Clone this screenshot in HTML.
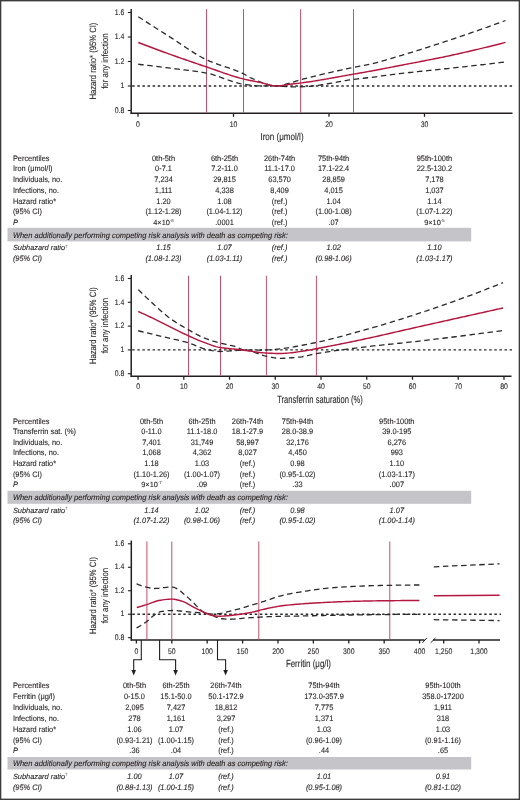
<!DOCTYPE html>
<html><head><meta charset="utf-8"><style>
html,body{margin:0;padding:0;background:#fff;}
#f{position:relative;width:520px;height:800px;overflow:hidden;background:#fff;box-sizing:border-box;border:1px solid #3c3c3c;box-shadow:inset 0 0 0 0.4px #666;}
svg{position:absolute;left:-1px;top:-1px;font-family:"Liberation Sans", sans-serif;will-change:transform;}
text{stroke:#231f20;stroke-width:0.1px;text-rendering:geometricPrecision;}
</style></head><body><div id="f">
<svg width="520" height="800" viewBox="0 0 520 800">
<line x1="131.2" y1="8.899999999999999" x2="131.2" y2="114.0" stroke="#231f20" stroke-width="1.5"/>
<line x1="127.79999999999998" y1="12.5" x2="131.2" y2="12.5" stroke="#231f20" stroke-width="1.1"/>
<text x="124.3" y="14.7" font-size="8.1" text-anchor="end" textLength="9.59" lengthAdjust="spacingAndGlyphs" fill="#231f20">1.6</text>
<line x1="127.79999999999998" y1="37.00000000000002" x2="131.2" y2="37.00000000000002" stroke="#231f20" stroke-width="1.1"/>
<text x="124.3" y="39.200000000000024" font-size="8.1" text-anchor="end" textLength="9.59" lengthAdjust="spacingAndGlyphs" fill="#231f20">1.4</text>
<line x1="127.79999999999998" y1="61.500000000000014" x2="131.2" y2="61.500000000000014" stroke="#231f20" stroke-width="1.1"/>
<text x="124.3" y="63.70000000000002" font-size="8.1" text-anchor="end" textLength="9.59" lengthAdjust="spacingAndGlyphs" fill="#231f20">1.2</text>
<line x1="127.79999999999998" y1="86.00000000000001" x2="131.2" y2="86.00000000000001" stroke="#231f20" stroke-width="1.1"/>
<text x="124.3" y="88.20000000000002" font-size="8.1" text-anchor="end" textLength="3.84" lengthAdjust="spacingAndGlyphs" fill="#231f20">1</text>
<line x1="127.79999999999998" y1="110.5" x2="131.2" y2="110.5" stroke="#231f20" stroke-width="1.1"/>
<text x="124.3" y="112.7" font-size="8.1" text-anchor="end" textLength="9.59" lengthAdjust="spacingAndGlyphs" fill="#231f20">0.8</text>
<text x="0" y="0" font-size="9.2" text-anchor="middle" fill="#231f20" textLength="77" lengthAdjust="spacingAndGlyphs" transform="translate(96,61.1) rotate(-90)">Hazard ratio* (95% CI)</text>
<text x="0" y="0" font-size="9.2" text-anchor="middle" fill="#231f20" textLength="55.5" lengthAdjust="spacingAndGlyphs" transform="translate(107.8,61.1) rotate(-90)">for any infection</text>
<line x1="130.7" y1="113.3" x2="512.5" y2="113.3" stroke="#231f20" stroke-width="1.5"/>
<line x1="138.0" y1="113.3" x2="138.0" y2="116.8" stroke="#231f20" stroke-width="1.3"/>
<text x="138.0" y="126.6" font-size="8.1" text-anchor="middle" textLength="3.84" lengthAdjust="spacingAndGlyphs" fill="#231f20">0</text>
<line x1="233.5" y1="113.3" x2="233.5" y2="116.8" stroke="#231f20" stroke-width="1.3"/>
<text x="233.5" y="126.6" font-size="8.1" text-anchor="middle" textLength="7.67" lengthAdjust="spacingAndGlyphs" fill="#231f20">10</text>
<line x1="329.0" y1="113.3" x2="329.0" y2="116.8" stroke="#231f20" stroke-width="1.3"/>
<text x="329.0" y="126.6" font-size="8.1" text-anchor="middle" textLength="7.67" lengthAdjust="spacingAndGlyphs" fill="#231f20">20</text>
<line x1="424.5" y1="113.3" x2="424.5" y2="116.8" stroke="#231f20" stroke-width="1.3"/>
<text x="424.5" y="126.6" font-size="8.1" text-anchor="middle" textLength="7.67" lengthAdjust="spacingAndGlyphs" fill="#231f20">30</text>
<text x="282" y="140.1" font-size="10" text-anchor="middle" textLength="43.2" lengthAdjust="spacingAndGlyphs" fill="#231f20">Iron (μmol/l)</text>
<line x1="206.5" y1="9.2" x2="206.5" y2="112.8" stroke="#c4506c" stroke-width="1"/>
<line x1="243.5" y1="9.2" x2="243.5" y2="112.8" stroke="#c4506c" stroke-width="1"/>
<line x1="300.6" y1="9.2" x2="300.6" y2="112.8" stroke="#c4506c" stroke-width="1"/>
<line x1="353.5" y1="9.2" x2="353.5" y2="112.8" stroke="#c4506c" stroke-width="1"/>
<line x1="132.2" y1="86.00000000000001" x2="513" y2="86.00000000000001" stroke="#2a2a2a" stroke-width="1.3" stroke-dasharray="2.5,2.6"/>
<path d="M138.25,16.75 L140.25,18.03 L142.24,19.32 L144.24,20.60 L146.23,21.88 L148.23,23.16 L150.23,24.43 L152.22,25.71 L154.22,26.98 L156.21,28.26 L158.21,29.53 L160.21,30.80 L162.20,32.06 L164.20,33.33 L166.19,34.59 L168.19,35.86 L170.18,37.12 L172.18,38.39 L174.18,39.70 L176.17,41.02 L178.17,42.35 L180.16,43.70 L182.16,45.05 L184.16,46.39 L186.15,47.73 L188.15,49.06 L190.14,50.37 L192.14,51.65 L194.14,52.91 L196.13,54.13 L198.13,55.32 L200.12,56.46 L202.12,57.55 L204.12,58.58 L206.11,59.55 L208.11,60.46 L210.10,61.32 L212.10,62.13 L214.10,62.90 L216.09,63.64 L218.09,64.34 L220.08,65.03 L222.08,65.70 L224.07,66.36 L226.07,67.03 L228.07,67.69 L230.06,68.37 L232.06,69.07 L234.05,69.79 L236.05,70.54 L238.05,71.34 L240.04,72.17 L242.04,73.06 L244.03,74.02 L246.03,75.21 L248.03,76.46 L250.02,77.51 L252.02,78.38 L254.01,79.27 L256.01,80.15 L258.01,81.02 L260.00,81.85 L262.00,82.65 L263.99,83.39 L265.99,84.06 L267.99,84.66 L269.98,85.16 L271.98,85.56 L273.97,85.83 L275.97,85.98 L277.96,85.97 L279.96,85.74 L281.96,85.33 L283.95,84.80 L285.95,84.20 L287.94,83.58 L289.94,83.02 L291.94,82.46 L293.93,81.85 L295.93,81.22 L297.92,80.60 L299.92,80.02 L301.92,79.48 L303.91,78.95 L305.91,78.42 L307.90,77.90 L309.90,77.39 L311.90,76.88 L313.89,76.38 L315.89,75.88 L317.88,75.39 L319.88,74.90 L321.88,74.42 L323.87,73.95 L325.87,73.47 L327.86,73.01 L329.86,72.55 L331.85,72.09 L333.85,71.64 L335.85,71.19 L337.84,70.75 L339.84,70.31 L341.83,69.87 L343.83,69.44 L345.83,69.01 L347.82,68.59 L349.82,68.16 L351.81,67.75 L353.81,67.33 L355.81,66.94 L357.80,66.57 L359.80,66.21 L361.79,65.86 L363.79,65.50 L365.79,65.12 L367.78,64.72 L369.78,64.30 L371.77,63.84 L373.77,63.36 L375.76,62.86 L377.76,62.33 L379.76,61.79 L381.75,61.23 L383.75,60.66 L385.74,60.08 L387.74,59.49 L389.74,58.89 L391.73,58.29 L393.73,57.68 L395.72,57.08 L397.72,56.48 L399.72,55.88 L401.71,55.29 L403.71,54.69 L405.70,54.09 L407.70,53.49 L409.70,52.88 L411.69,52.27 L413.69,51.66 L415.68,51.04 L417.68,50.42 L419.68,49.80 L421.67,49.18 L423.67,48.55 L425.66,47.91 L427.66,47.28 L429.65,46.64 L431.65,46.00 L433.65,45.36 L435.64,44.71 L437.64,44.07 L439.63,43.42 L441.63,42.76 L443.63,42.11 L445.62,41.45 L447.62,40.79 L449.61,40.13 L451.61,39.46 L453.61,38.80 L455.60,38.13 L457.60,37.45 L459.59,36.78 L461.59,36.10 L463.59,35.42 L465.58,34.74 L467.58,34.05 L469.57,33.36 L471.57,32.67 L473.57,31.97 L475.56,31.28 L477.56,30.58 L479.55,29.88 L481.55,29.17 L483.54,28.46 L485.54,27.75 L487.54,27.04 L489.53,26.32 L491.53,25.60 L493.52,24.88 L495.52,24.16 L497.52,23.43 L499.51,22.70 L501.51,21.97 L503.50,21.24 L505.50,20.50" fill="none" stroke="#2a2a2a" stroke-width="1.3" stroke-dasharray="5.5,3.6" stroke-linejoin="round"/>
<path d="M138.25,64.25 L140.25,64.49 L142.24,64.73 L144.24,64.97 L146.23,65.22 L148.23,65.46 L150.23,65.71 L152.22,65.96 L154.22,66.20 L156.21,66.45 L158.21,66.70 L160.21,66.95 L162.20,67.20 L164.20,67.46 L166.19,67.71 L168.19,67.97 L170.18,68.22 L172.18,68.48 L174.18,68.72 L176.17,68.96 L178.17,69.19 L180.16,69.43 L182.16,69.66 L184.16,69.89 L186.15,70.13 L188.15,70.37 L190.14,70.62 L192.14,70.87 L194.14,71.14 L196.13,71.41 L198.13,71.70 L200.12,72.00 L202.12,72.32 L204.12,72.66 L206.11,73.02 L208.11,73.43 L210.10,73.91 L212.10,74.46 L214.10,75.06 L216.09,75.70 L218.09,76.38 L220.08,77.09 L222.08,77.81 L224.07,78.54 L226.07,79.27 L228.07,79.99 L230.06,80.69 L232.06,81.36 L234.05,81.99 L236.05,82.58 L238.05,83.11 L240.04,83.57 L242.04,83.97 L244.03,84.28 L246.03,84.57 L248.03,84.85 L250.02,85.11 L252.02,85.35 L254.01,85.56 L256.01,85.73 L258.01,85.84 L260.00,85.90 L262.00,85.92 L263.99,85.93 L265.99,85.94 L267.99,85.95 L269.98,85.95 L271.98,85.96 L273.97,85.97 L275.97,85.99 L277.96,86.02 L279.96,86.13 L281.96,86.28 L283.95,86.46 L285.95,86.63 L287.94,86.75 L289.94,86.80 L291.94,86.80 L293.93,86.80 L295.93,86.80 L297.92,86.80 L299.92,86.80 L301.92,86.78 L303.91,86.72 L305.91,86.62 L307.90,86.49 L309.90,86.32 L311.90,86.12 L313.89,85.89 L315.89,85.64 L317.88,85.37 L319.88,85.07 L321.88,84.76 L323.87,84.43 L325.87,84.09 L327.86,83.74 L329.86,83.38 L331.85,83.02 L333.85,82.65 L335.85,82.28 L337.84,81.92 L339.84,81.56 L341.83,81.21 L343.83,80.87 L345.83,80.54 L347.82,80.22 L349.82,79.93 L351.81,79.65 L353.81,79.40 L355.81,79.16 L357.80,78.92 L359.80,78.69 L361.79,78.46 L363.79,78.23 L365.79,78.00 L367.78,77.77 L369.78,77.53 L371.77,77.28 L373.77,77.03 L375.76,76.77 L377.76,76.50 L379.76,76.24 L381.75,75.97 L383.75,75.70 L385.74,75.43 L387.74,75.16 L389.74,74.90 L391.73,74.63 L393.73,74.37 L395.72,74.12 L397.72,73.87 L399.72,73.63 L401.71,73.40 L403.71,73.17 L405.70,72.94 L407.70,72.72 L409.70,72.50 L411.69,72.29 L413.69,72.07 L415.68,71.86 L417.68,71.65 L419.68,71.45 L421.67,71.24 L423.67,71.03 L425.66,70.83 L427.66,70.63 L429.65,70.42 L431.65,70.22 L433.65,70.02 L435.64,69.81 L437.64,69.61 L439.63,69.40 L441.63,69.19 L443.63,68.98 L445.62,68.77 L447.62,68.56 L449.61,68.34 L451.61,68.12 L453.61,67.90 L455.60,67.68 L457.60,67.46 L459.59,67.24 L461.59,67.02 L463.59,66.80 L465.58,66.58 L467.58,66.35 L469.57,66.13 L471.57,65.90 L473.57,65.68 L475.56,65.45 L477.56,65.23 L479.55,65.00 L481.55,64.77 L483.54,64.54 L485.54,64.32 L487.54,64.09 L489.53,63.86 L491.53,63.63 L493.52,63.40 L495.52,63.17 L497.52,62.93 L499.51,62.70 L501.51,62.47 L503.50,62.23 L505.50,62.00" fill="none" stroke="#2a2a2a" stroke-width="1.3" stroke-dasharray="5.5,3.6" stroke-linejoin="round"/>
<path d="M138.25,42.50 L140.25,43.26 L142.24,44.03 L144.24,44.79 L146.23,45.54 L148.23,46.29 L150.23,47.04 L152.22,47.79 L154.22,48.53 L156.21,49.27 L158.21,50.01 L160.21,50.75 L162.20,51.48 L164.20,52.20 L166.19,52.93 L168.19,53.65 L170.18,54.37 L172.18,55.08 L174.18,55.79 L176.17,56.50 L178.17,57.20 L180.16,57.90 L182.16,58.60 L184.16,59.30 L186.15,59.99 L188.15,60.68 L190.14,61.36 L192.14,62.05 L194.14,62.73 L196.13,63.41 L198.13,64.09 L200.12,64.77 L202.12,65.44 L204.12,66.12 L206.11,66.79 L208.11,67.47 L210.10,68.15 L212.10,68.85 L214.10,69.55 L216.09,70.26 L218.09,70.96 L220.08,71.67 L222.08,72.37 L224.07,73.07 L226.07,73.75 L228.07,74.43 L230.06,75.09 L232.06,75.73 L234.05,76.36 L236.05,76.97 L238.05,77.55 L240.04,78.10 L242.04,78.63 L244.03,79.13 L246.03,79.59 L248.03,80.02 L250.02,80.43 L252.02,80.83 L254.01,81.21 L256.01,81.60 L258.01,81.99 L260.00,82.40 L262.00,82.86 L263.99,83.39 L265.99,83.95 L267.99,84.51 L269.98,85.02 L271.98,85.46 L273.97,85.79 L275.97,85.97 L277.96,85.98 L279.96,85.83 L281.96,85.56 L283.95,85.22 L285.95,84.85 L287.94,84.50 L289.94,84.21 L291.94,83.98 L293.93,83.77 L295.93,83.56 L297.92,83.35 L299.92,83.11 L301.92,82.85 L303.91,82.58 L305.91,82.30 L307.90,82.02 L309.90,81.72 L311.90,81.41 L313.89,81.10 L315.89,80.78 L317.88,80.45 L319.88,80.12 L321.88,79.78 L323.87,79.44 L325.87,79.09 L327.86,78.74 L329.86,78.38 L331.85,78.03 L333.85,77.67 L335.85,77.31 L337.84,76.95 L339.84,76.59 L341.83,76.23 L343.83,75.87 L345.83,75.51 L347.82,75.16 L349.82,74.80 L351.81,74.46 L353.81,74.11 L355.81,73.77 L357.80,73.42 L359.80,73.07 L361.79,72.72 L363.79,72.37 L365.79,72.01 L367.78,71.65 L369.78,71.29 L371.77,70.92 L373.77,70.55 L375.76,70.18 L377.76,69.80 L379.76,69.42 L381.75,69.04 L383.75,68.66 L385.74,68.27 L387.74,67.89 L389.74,67.50 L391.73,67.11 L393.73,66.72 L395.72,66.33 L397.72,65.94 L399.72,65.56 L401.71,65.17 L403.71,64.78 L405.70,64.40 L407.70,64.01 L409.70,63.63 L411.69,63.25 L413.69,62.86 L415.68,62.48 L417.68,62.10 L419.68,61.71 L421.67,61.33 L423.67,60.94 L425.66,60.55 L427.66,60.16 L429.65,59.77 L431.65,59.38 L433.65,58.98 L435.64,58.58 L437.64,58.18 L439.63,57.77 L441.63,57.36 L443.63,56.95 L445.62,56.53 L447.62,56.11 L449.61,55.68 L451.61,55.25 L453.61,54.82 L455.60,54.38 L457.60,53.94 L459.59,53.49 L461.59,53.04 L463.59,52.59 L465.58,52.14 L467.58,51.68 L469.57,51.22 L471.57,50.76 L473.57,50.29 L475.56,49.82 L477.56,49.34 L479.55,48.87 L481.55,48.39 L483.54,47.91 L485.54,47.42 L487.54,46.93 L489.53,46.44 L491.53,45.94 L493.52,45.45 L495.52,44.95 L497.52,44.44 L499.51,43.94 L501.51,43.43 L503.50,42.92 L505.50,42.40" fill="none" stroke="#b3173f" stroke-width="1.45" stroke-linejoin="round"/>
<line x1="131.2" y1="275.0" x2="131.2" y2="376.95" stroke="#231f20" stroke-width="1.5"/>
<line x1="127.79999999999998" y1="278.5" x2="131.2" y2="278.5" stroke="#231f20" stroke-width="1.1"/>
<text x="124.3" y="280.7" font-size="8.1" text-anchor="end" textLength="9.59" lengthAdjust="spacingAndGlyphs" fill="#231f20">1.6</text>
<line x1="127.79999999999998" y1="302.3" x2="131.2" y2="302.3" stroke="#231f20" stroke-width="1.1"/>
<text x="124.3" y="304.5" font-size="8.1" text-anchor="end" textLength="9.59" lengthAdjust="spacingAndGlyphs" fill="#231f20">1.4</text>
<line x1="127.79999999999998" y1="326.1" x2="131.2" y2="326.1" stroke="#231f20" stroke-width="1.1"/>
<text x="124.3" y="328.3" font-size="8.1" text-anchor="end" textLength="9.59" lengthAdjust="spacingAndGlyphs" fill="#231f20">1.2</text>
<line x1="127.79999999999998" y1="349.9" x2="131.2" y2="349.9" stroke="#231f20" stroke-width="1.1"/>
<text x="124.3" y="352.09999999999997" font-size="8.1" text-anchor="end" textLength="3.84" lengthAdjust="spacingAndGlyphs" fill="#231f20">1</text>
<line x1="127.79999999999998" y1="373.7" x2="131.2" y2="373.7" stroke="#231f20" stroke-width="1.1"/>
<text x="124.3" y="375.9" font-size="8.1" text-anchor="end" textLength="9.59" lengthAdjust="spacingAndGlyphs" fill="#231f20">0.8</text>
<text x="0" y="0" font-size="9.2" text-anchor="middle" fill="#231f20" textLength="77" lengthAdjust="spacingAndGlyphs" transform="translate(96,325.6) rotate(-90)">Hazard ratio* (95% CI)</text>
<text x="0" y="0" font-size="9.2" text-anchor="middle" fill="#231f20" textLength="55.5" lengthAdjust="spacingAndGlyphs" transform="translate(107.8,325.6) rotate(-90)">for any infection</text>
<line x1="130.7" y1="376.25" x2="511.5" y2="376.25" stroke="#231f20" stroke-width="1.5"/>
<line x1="138.05" y1="376.25" x2="138.05" y2="379.75" stroke="#231f20" stroke-width="1.3"/>
<text x="138.05" y="389.3" font-size="8.1" text-anchor="middle" textLength="3.84" lengthAdjust="spacingAndGlyphs" fill="#231f20">0</text>
<line x1="183.79000000000002" y1="376.25" x2="183.79000000000002" y2="379.75" stroke="#231f20" stroke-width="1.3"/>
<text x="183.79000000000002" y="389.3" font-size="8.1" text-anchor="middle" textLength="7.67" lengthAdjust="spacingAndGlyphs" fill="#231f20">10</text>
<line x1="229.53" y1="376.25" x2="229.53" y2="379.75" stroke="#231f20" stroke-width="1.3"/>
<text x="229.53" y="389.3" font-size="8.1" text-anchor="middle" textLength="7.67" lengthAdjust="spacingAndGlyphs" fill="#231f20">20</text>
<line x1="275.27" y1="376.25" x2="275.27" y2="379.75" stroke="#231f20" stroke-width="1.3"/>
<text x="275.27" y="389.3" font-size="8.1" text-anchor="middle" textLength="7.67" lengthAdjust="spacingAndGlyphs" fill="#231f20">30</text>
<line x1="321.01" y1="376.25" x2="321.01" y2="379.75" stroke="#231f20" stroke-width="1.3"/>
<text x="321.01" y="389.3" font-size="8.1" text-anchor="middle" textLength="7.67" lengthAdjust="spacingAndGlyphs" fill="#231f20">40</text>
<line x1="366.75" y1="376.25" x2="366.75" y2="379.75" stroke="#231f20" stroke-width="1.3"/>
<text x="366.75" y="389.3" font-size="8.1" text-anchor="middle" textLength="7.67" lengthAdjust="spacingAndGlyphs" fill="#231f20">50</text>
<line x1="412.49" y1="376.25" x2="412.49" y2="379.75" stroke="#231f20" stroke-width="1.3"/>
<text x="412.49" y="389.3" font-size="8.1" text-anchor="middle" textLength="7.67" lengthAdjust="spacingAndGlyphs" fill="#231f20">60</text>
<line x1="458.23" y1="376.25" x2="458.23" y2="379.75" stroke="#231f20" stroke-width="1.3"/>
<text x="458.23" y="389.3" font-size="8.1" text-anchor="middle" textLength="7.67" lengthAdjust="spacingAndGlyphs" fill="#231f20">70</text>
<line x1="503.96999999999997" y1="376.25" x2="503.96999999999997" y2="379.75" stroke="#231f20" stroke-width="1.3"/>
<text x="503.96999999999997" y="389.3" font-size="8.1" text-anchor="middle" textLength="7.67" lengthAdjust="spacingAndGlyphs" fill="#231f20">80</text>
<text x="320" y="403.1" font-size="10.5" text-anchor="middle" textLength="85.5" lengthAdjust="spacingAndGlyphs" fill="#231f20">Transferrin saturation (%)</text>
<line x1="188.5" y1="275.7" x2="188.5" y2="375.75" stroke="#c4506c" stroke-width="1"/>
<line x1="220.5" y1="275.7" x2="220.5" y2="375.75" stroke="#c4506c" stroke-width="1"/>
<line x1="266.4" y1="275.7" x2="266.4" y2="375.75" stroke="#c4506c" stroke-width="1"/>
<line x1="316.4" y1="275.7" x2="316.4" y2="375.75" stroke="#c4506c" stroke-width="1"/>
<line x1="132.2" y1="349.9" x2="512" y2="349.9" stroke="#2a2a2a" stroke-width="1.3" stroke-dasharray="2.5,2.6"/>
<path d="M138.25,289.60 L140.24,291.57 L142.24,293.52 L144.23,295.44 L146.22,297.35 L148.22,299.23 L150.21,301.08 L152.20,302.91 L154.20,304.73 L156.19,306.57 L158.18,308.39 L160.17,310.20 L162.17,311.97 L164.16,313.69 L166.15,315.34 L168.15,316.92 L170.14,318.39 L172.13,319.80 L174.13,321.15 L176.12,322.45 L178.11,323.71 L180.11,324.93 L182.10,326.12 L184.09,327.29 L186.09,328.43 L188.08,329.56 L190.07,330.69 L192.07,331.82 L194.06,332.94 L196.05,334.04 L198.05,335.09 L200.04,336.10 L202.03,337.05 L204.02,337.91 L206.02,338.69 L208.01,339.41 L210.00,340.09 L212.00,340.72 L213.99,341.32 L215.98,341.90 L217.98,342.45 L219.97,342.99 L221.96,343.50 L223.96,343.95 L225.95,344.39 L227.94,344.81 L229.94,345.24 L231.93,345.70 L233.92,346.20 L235.92,346.80 L237.91,347.66 L239.90,348.61 L241.89,349.47 L243.89,350.01 L245.88,350.10 L247.87,350.10 L249.87,350.09 L251.86,350.09 L253.85,350.08 L255.85,350.07 L257.84,350.06 L259.83,350.05 L261.83,350.04 L263.82,350.02 L265.81,350.00 L267.81,349.95 L269.80,349.85 L271.79,349.69 L273.79,349.50 L275.78,349.28 L277.77,349.05 L279.77,348.83 L281.76,348.60 L283.75,348.35 L285.74,348.08 L287.74,347.80 L289.73,347.50 L291.72,347.18 L293.72,346.85 L295.71,346.50 L297.70,346.14 L299.70,345.77 L301.69,345.39 L303.68,345.00 L305.68,344.61 L307.67,344.21 L309.66,343.80 L311.66,343.40 L313.65,342.99 L315.64,342.57 L317.64,342.16 L319.63,341.73 L321.62,341.29 L323.61,340.83 L325.61,340.37 L327.60,339.89 L329.59,339.40 L331.59,338.91 L333.58,338.40 L335.57,337.89 L337.57,337.37 L339.56,336.85 L341.55,336.32 L343.55,335.78 L345.54,335.24 L347.53,334.70 L349.53,334.15 L351.52,333.60 L353.51,333.05 L355.51,332.50 L357.50,331.94 L359.49,331.39 L361.48,330.84 L363.48,330.28 L365.47,329.72 L367.46,329.16 L369.46,328.59 L371.45,328.02 L373.44,327.44 L375.44,326.87 L377.43,326.28 L379.42,325.70 L381.42,325.11 L383.41,324.51 L385.40,323.92 L387.40,323.32 L389.39,322.71 L391.38,322.11 L393.38,321.49 L395.37,320.88 L397.36,320.26 L399.36,319.64 L401.35,319.01 L403.34,318.39 L405.33,317.75 L407.33,317.12 L409.32,316.48 L411.31,315.84 L413.31,315.19 L415.30,314.54 L417.29,313.89 L419.29,313.24 L421.28,312.58 L423.27,311.91 L425.27,311.25 L427.26,310.58 L429.25,309.91 L431.25,309.23 L433.24,308.56 L435.23,307.87 L437.23,307.19 L439.22,306.50 L441.21,305.81 L443.20,305.11 L445.20,304.42 L447.19,303.71 L449.18,303.01 L451.18,302.30 L453.17,301.59 L455.16,300.87 L457.16,300.15 L459.15,299.43 L461.14,298.71 L463.14,297.98 L465.13,297.25 L467.12,296.51 L469.12,295.77 L471.11,295.03 L473.10,294.29 L475.10,293.54 L477.09,292.79 L479.08,292.03 L481.08,291.27 L483.07,290.51 L485.06,289.74 L487.05,288.98 L489.05,288.20 L491.04,287.43 L493.03,286.65 L495.03,285.86 L497.02,285.08 L499.01,284.29 L501.01,283.50 L503.00,282.70" fill="none" stroke="#2a2a2a" stroke-width="1.3" stroke-dasharray="5.5,3.6" stroke-linejoin="round"/>
<path d="M138.25,330.75 L140.24,331.25 L142.24,331.75 L144.23,332.24 L146.22,332.73 L148.22,333.22 L150.21,333.70 L152.20,334.18 L154.20,334.65 L156.19,335.11 L158.18,335.57 L160.17,336.02 L162.17,336.47 L164.16,336.93 L166.15,337.39 L168.15,337.85 L170.14,338.33 L172.13,338.80 L174.13,339.26 L176.12,339.72 L178.11,340.19 L180.11,340.66 L182.10,341.16 L184.09,341.67 L186.09,342.21 L188.08,342.78 L190.07,343.41 L192.07,344.15 L194.06,344.96 L196.05,345.80 L198.05,346.64 L200.04,347.43 L202.03,348.15 L204.02,348.76 L206.02,349.23 L208.01,349.70 L210.00,350.16 L212.00,350.58 L213.99,350.95 L215.98,351.24 L217.98,351.43 L219.97,351.50 L221.96,351.47 L223.96,351.38 L225.95,351.26 L227.94,351.10 L229.94,350.94 L231.93,350.79 L233.92,350.66 L235.92,350.55 L237.91,350.45 L239.90,350.35 L241.89,350.26 L243.89,350.21 L245.88,350.22 L247.87,350.44 L249.87,350.85 L251.86,351.41 L253.85,352.08 L255.85,352.83 L257.84,353.60 L259.83,354.36 L261.83,355.07 L263.82,355.68 L265.81,356.16 L267.81,356.56 L269.80,356.97 L271.79,357.36 L273.79,357.72 L275.78,358.01 L277.77,358.21 L279.77,358.30 L281.76,358.29 L283.75,358.24 L285.74,358.16 L287.74,358.05 L289.73,357.92 L291.72,357.77 L293.72,357.60 L295.71,357.42 L297.70,357.23 L299.70,357.03 L301.69,356.79 L303.68,356.46 L305.68,356.05 L307.67,355.60 L309.66,355.12 L311.66,354.65 L313.65,354.20 L315.64,353.81 L317.64,353.47 L319.63,353.14 L321.62,352.81 L323.61,352.49 L325.61,352.18 L327.60,351.87 L329.59,351.57 L331.59,351.28 L333.58,350.99 L335.57,350.70 L337.57,350.42 L339.56,350.14 L341.55,349.87 L343.55,349.60 L345.54,349.34 L347.53,349.08 L349.53,348.82 L351.52,348.56 L353.51,348.31 L355.51,348.06 L357.50,347.81 L359.49,347.56 L361.48,347.32 L363.48,347.08 L365.47,346.84 L367.46,346.61 L369.46,346.38 L371.45,346.16 L373.44,345.94 L375.44,345.72 L377.43,345.50 L379.42,345.29 L381.42,345.08 L383.41,344.87 L385.40,344.67 L387.40,344.46 L389.39,344.26 L391.38,344.05 L393.38,343.85 L395.37,343.64 L397.36,343.44 L399.36,343.23 L401.35,343.03 L403.34,342.82 L405.33,342.61 L407.33,342.40 L409.32,342.19 L411.31,341.97 L413.31,341.76 L415.30,341.54 L417.29,341.31 L419.29,341.08 L421.28,340.85 L423.27,340.62 L425.27,340.38 L427.26,340.15 L429.25,339.91 L431.25,339.68 L433.24,339.44 L435.23,339.20 L437.23,338.96 L439.22,338.72 L441.21,338.48 L443.20,338.24 L445.20,337.99 L447.19,337.75 L449.18,337.50 L451.18,337.26 L453.17,337.01 L455.16,336.76 L457.16,336.51 L459.15,336.26 L461.14,336.01 L463.14,335.76 L465.13,335.51 L467.12,335.25 L469.12,335.00 L471.11,334.74 L473.10,334.48 L475.10,334.22 L477.09,333.96 L479.08,333.70 L481.08,333.44 L483.07,333.18 L485.06,332.92 L487.05,332.65 L489.05,332.39 L491.04,332.12 L493.03,331.85 L495.03,331.58 L497.02,331.31 L499.01,331.04 L501.01,330.77 L503.00,330.50" fill="none" stroke="#2a2a2a" stroke-width="1.3" stroke-dasharray="5.5,3.6" stroke-linejoin="round"/>
<path d="M138.25,311.50 L140.24,312.40 L142.24,313.30 L144.23,314.21 L146.22,315.13 L148.22,316.06 L150.21,317.00 L152.20,317.95 L154.20,318.92 L156.19,319.89 L158.18,320.88 L160.17,321.88 L162.17,322.88 L164.16,323.89 L166.15,324.89 L168.15,325.88 L170.14,326.87 L172.13,327.85 L174.13,328.85 L176.12,329.84 L178.11,330.83 L180.11,331.81 L182.10,332.79 L184.09,333.75 L186.09,334.69 L188.08,335.61 L190.07,336.51 L192.07,337.41 L194.06,338.31 L196.05,339.19 L198.05,340.05 L200.04,340.88 L202.03,341.68 L204.02,342.44 L206.02,343.17 L208.01,343.90 L210.00,344.63 L212.00,345.34 L213.99,346.00 L215.98,346.59 L217.98,347.10 L219.97,347.49 L221.96,347.80 L223.96,348.06 L225.95,348.28 L227.94,348.49 L229.94,348.68 L231.93,348.87 L233.92,349.08 L235.92,349.31 L237.91,349.54 L239.90,349.78 L241.89,350.02 L243.89,350.26 L245.88,350.51 L247.87,350.78 L249.87,351.06 L251.86,351.35 L253.85,351.64 L255.85,351.93 L257.84,352.20 L259.83,352.45 L261.83,352.67 L263.82,352.85 L265.81,352.99 L267.81,353.10 L269.80,353.20 L271.79,353.29 L273.79,353.37 L275.78,353.44 L277.77,353.48 L279.77,353.50 L281.76,353.48 L283.75,353.40 L285.74,353.27 L287.74,353.10 L289.73,352.89 L291.72,352.66 L293.72,352.42 L295.71,352.16 L297.70,351.89 L299.70,351.64 L301.69,351.37 L303.68,351.06 L305.68,350.72 L307.67,350.36 L309.66,349.98 L311.66,349.59 L313.65,349.20 L315.64,348.82 L317.64,348.44 L319.63,348.07 L321.62,347.69 L323.61,347.31 L325.61,346.93 L327.60,346.55 L329.59,346.16 L331.59,345.77 L333.58,345.38 L335.57,344.99 L337.57,344.59 L339.56,344.20 L341.55,343.80 L343.55,343.40 L345.54,342.99 L347.53,342.59 L349.53,342.18 L351.52,341.77 L353.51,341.36 L355.51,340.94 L357.50,340.52 L359.49,340.11 L361.48,339.69 L363.48,339.26 L365.47,338.83 L367.46,338.40 L369.46,337.97 L371.45,337.53 L373.44,337.09 L375.44,336.65 L377.43,336.20 L379.42,335.75 L381.42,335.31 L383.41,334.85 L385.40,334.40 L387.40,333.95 L389.39,333.49 L391.38,333.03 L393.38,332.58 L395.37,332.12 L397.36,331.66 L399.36,331.20 L401.35,330.75 L403.34,330.29 L405.33,329.83 L407.33,329.37 L409.32,328.92 L411.31,328.46 L413.31,328.01 L415.30,327.56 L417.29,327.11 L419.29,326.66 L421.28,326.21 L423.27,325.77 L425.27,325.32 L427.26,324.87 L429.25,324.43 L431.25,323.98 L433.24,323.54 L435.23,323.09 L437.23,322.65 L439.22,322.20 L441.21,321.75 L443.20,321.31 L445.20,320.86 L447.19,320.42 L449.18,319.97 L451.18,319.53 L453.17,319.08 L455.16,318.64 L457.16,318.19 L459.15,317.75 L461.14,317.31 L463.14,316.86 L465.13,316.42 L467.12,315.97 L469.12,315.53 L471.11,315.09 L473.10,314.64 L475.10,314.20 L477.09,313.75 L479.08,313.31 L481.08,312.87 L483.07,312.42 L485.06,311.98 L487.05,311.54 L489.05,311.10 L491.04,310.65 L493.03,310.21 L495.03,309.77 L497.02,309.33 L499.01,308.88 L501.01,308.44 L503.00,308.00" fill="none" stroke="#b3173f" stroke-width="1.45" stroke-linejoin="round"/>
<line x1="131.3" y1="540.5" x2="131.3" y2="640.7" stroke="#231f20" stroke-width="1.5"/>
<line x1="127.9" y1="543.8" x2="131.3" y2="543.8" stroke="#231f20" stroke-width="1.1"/>
<text x="124.3" y="546.0" font-size="8.1" text-anchor="end" textLength="9.59" lengthAdjust="spacingAndGlyphs" fill="#231f20">1.6</text>
<line x1="127.9" y1="567.275" x2="131.3" y2="567.275" stroke="#231f20" stroke-width="1.1"/>
<text x="124.3" y="569.475" font-size="8.1" text-anchor="end" textLength="9.59" lengthAdjust="spacingAndGlyphs" fill="#231f20">1.4</text>
<line x1="127.9" y1="590.75" x2="131.3" y2="590.75" stroke="#231f20" stroke-width="1.1"/>
<text x="124.3" y="592.95" font-size="8.1" text-anchor="end" textLength="9.59" lengthAdjust="spacingAndGlyphs" fill="#231f20">1.2</text>
<line x1="127.9" y1="614.225" x2="131.3" y2="614.225" stroke="#231f20" stroke-width="1.1"/>
<text x="124.3" y="616.4250000000001" font-size="8.1" text-anchor="end" textLength="3.84" lengthAdjust="spacingAndGlyphs" fill="#231f20">1</text>
<line x1="127.9" y1="637.7" x2="131.3" y2="637.7" stroke="#231f20" stroke-width="1.1"/>
<text x="124.3" y="639.9000000000001" font-size="8.1" text-anchor="end" textLength="9.59" lengthAdjust="spacingAndGlyphs" fill="#231f20">0.8</text>
<text x="0" y="0" font-size="9.2" text-anchor="middle" fill="#231f20" textLength="77" lengthAdjust="spacingAndGlyphs" transform="translate(96,595.5) rotate(-90)">Hazard ratio* (95% CI)</text>
<text x="0" y="0" font-size="9.2" text-anchor="middle" fill="#231f20" textLength="55.5" lengthAdjust="spacingAndGlyphs" transform="translate(107.8,595.5) rotate(-90)">for any infection</text>
<line x1="130.8" y1="640.0" x2="424.5" y2="640.0" stroke="#231f20" stroke-width="1.5"/>
<line x1="433" y1="640.0" x2="500" y2="640.0" stroke="#231f20" stroke-width="1.5"/>
<line x1="422.5" y1="642.8" x2="426.8" y2="638" stroke="#231f20" stroke-width="1"/>
<line x1="430.7" y1="642.8" x2="435.5" y2="638" stroke="#231f20" stroke-width="1"/>
<line x1="136.4" y1="640.0" x2="136.4" y2="643.5" stroke="#231f20" stroke-width="1.3"/>
<text x="136.4" y="653.6" font-size="8.1" text-anchor="middle" textLength="3.84" lengthAdjust="spacingAndGlyphs" fill="#231f20">0</text>
<line x1="171.79500000000002" y1="640.0" x2="171.79500000000002" y2="643.5" stroke="#231f20" stroke-width="1.3"/>
<text x="171.79500000000002" y="653.6" font-size="8.1" text-anchor="middle" textLength="7.67" lengthAdjust="spacingAndGlyphs" fill="#231f20">50</text>
<line x1="207.19" y1="640.0" x2="207.19" y2="643.5" stroke="#231f20" stroke-width="1.3"/>
<text x="207.19" y="653.6" font-size="8.1" text-anchor="middle" textLength="11.51" lengthAdjust="spacingAndGlyphs" fill="#231f20">100</text>
<line x1="242.585" y1="640.0" x2="242.585" y2="643.5" stroke="#231f20" stroke-width="1.3"/>
<text x="242.585" y="653.6" font-size="8.1" text-anchor="middle" textLength="11.51" lengthAdjust="spacingAndGlyphs" fill="#231f20">150</text>
<line x1="277.98" y1="640.0" x2="277.98" y2="643.5" stroke="#231f20" stroke-width="1.3"/>
<text x="277.98" y="653.6" font-size="8.1" text-anchor="middle" textLength="11.51" lengthAdjust="spacingAndGlyphs" fill="#231f20">200</text>
<line x1="313.375" y1="640.0" x2="313.375" y2="643.5" stroke="#231f20" stroke-width="1.3"/>
<text x="313.375" y="653.6" font-size="8.1" text-anchor="middle" textLength="11.51" lengthAdjust="spacingAndGlyphs" fill="#231f20">250</text>
<line x1="348.77" y1="640.0" x2="348.77" y2="643.5" stroke="#231f20" stroke-width="1.3"/>
<text x="348.77" y="653.6" font-size="8.1" text-anchor="middle" textLength="11.51" lengthAdjust="spacingAndGlyphs" fill="#231f20">300</text>
<line x1="384.16499999999996" y1="640.0" x2="384.16499999999996" y2="643.5" stroke="#231f20" stroke-width="1.3"/>
<text x="384.16499999999996" y="653.6" font-size="8.1" text-anchor="middle" textLength="11.51" lengthAdjust="spacingAndGlyphs" fill="#231f20">350</text>
<line x1="419.55999999999995" y1="640.0" x2="419.55999999999995" y2="643.5" stroke="#231f20" stroke-width="1.3"/>
<text x="419.55999999999995" y="653.6" font-size="8.1" text-anchor="middle" textLength="11.51" lengthAdjust="spacingAndGlyphs" fill="#231f20">400</text>
<line x1="443.7" y1="640.0" x2="443.7" y2="643.5" stroke="#231f20" stroke-width="1.3"/>
<text x="443.7" y="653.6" font-size="8.1" text-anchor="middle" textLength="17.27" lengthAdjust="spacingAndGlyphs" fill="#231f20">1,250</text>
<line x1="479" y1="640.0" x2="479" y2="643.5" stroke="#231f20" stroke-width="1.3"/>
<text x="479" y="653.6" font-size="8.1" text-anchor="middle" textLength="17.27" lengthAdjust="spacingAndGlyphs" fill="#231f20">1,300</text>
<text x="308.4" y="667.2" font-size="10.3" text-anchor="middle" textLength="45" lengthAdjust="spacingAndGlyphs" fill="#231f20">Ferritin (μg/l)</text>
<line x1="146.9" y1="541.5" x2="146.9" y2="639.5" stroke="#c4506c" stroke-width="1"/>
<line x1="171.8" y1="541.5" x2="171.8" y2="639.5" stroke="#c4506c" stroke-width="1"/>
<line x1="258.8" y1="541.5" x2="258.8" y2="639.5" stroke="#c4506c" stroke-width="1"/>
<line x1="389.8" y1="541.5" x2="389.8" y2="639.5" stroke="#c4506c" stroke-width="1"/>
<line x1="132.3" y1="614.225" x2="501" y2="614.225" stroke="#2a2a2a" stroke-width="1.3" stroke-dasharray="2.5,2.6"/>
<path d="M136.50,583.75 L138.49,584.60 L140.48,585.39 L142.48,586.09 L144.47,586.69 L146.46,587.19 L148.45,587.60 L150.45,588.00 L152.44,588.32 L154.43,588.49 L156.42,588.46 L158.41,588.29 L160.41,588.05 L162.40,587.79 L164.39,587.55 L166.38,587.38 L168.38,587.19 L170.37,587.04 L172.36,587.01 L174.35,587.49 L176.35,588.41 L178.34,589.49 L180.33,590.99 L182.32,592.72 L184.31,594.39 L186.31,596.11 L188.30,597.87 L190.29,599.68 L192.28,601.55 L194.28,603.56 L196.27,605.62 L198.26,607.59 L200.25,609.38 L202.24,611.21 L204.24,612.71 L206.23,613.41 L208.22,613.83 L210.21,614.11 L212.21,614.20 L214.20,614.12 L216.19,613.95 L218.18,613.73 L220.17,613.48 L222.17,613.15 L224.16,612.73 L226.15,612.24 L228.14,611.72 L230.14,611.22 L232.13,610.71 L234.12,610.19 L236.11,609.64 L238.10,609.08 L240.10,608.52 L242.09,607.94 L244.08,607.35 L246.07,606.76 L248.07,606.17 L250.06,605.58 L252.05,604.99 L254.04,604.40 L256.04,603.79 L258.03,603.18 L260.02,602.57 L262.01,601.95 L264.00,601.32 L266.00,600.67 L267.99,599.99 L269.98,599.28 L271.97,598.56 L273.97,597.86 L275.96,597.19 L277.95,596.56 L279.94,596.01 L281.93,595.52 L283.93,595.06 L285.92,594.61 L287.91,594.19 L289.90,593.79 L291.90,593.41 L293.89,593.04 L295.88,592.69 L297.87,592.35 L299.86,592.02 L301.86,591.70 L303.85,591.38 L305.84,591.07 L307.83,590.77 L309.83,590.47 L311.82,590.18 L313.81,589.89 L315.80,589.62 L317.80,589.36 L319.79,589.10 L321.78,588.86 L323.77,588.63 L325.76,588.41 L327.76,588.21 L329.75,588.02 L331.74,587.85 L333.73,587.68 L335.73,587.52 L337.72,587.36 L339.71,587.22 L341.70,587.08 L343.69,586.95 L345.69,586.83 L347.68,586.72 L349.67,586.62 L351.66,586.52 L353.66,586.42 L355.65,586.33 L357.64,586.24 L359.63,586.15 L361.62,586.07 L363.62,585.99 L365.61,585.92 L367.60,585.84 L369.59,585.77 L371.59,585.71 L373.58,585.65 L375.57,585.60 L377.56,585.55 L379.55,585.51 L381.55,585.47 L383.54,585.43 L385.53,585.39 L387.52,585.36 L389.52,585.32 L391.51,585.29 L393.50,585.25 L395.49,585.22 L397.49,585.19 L399.48,585.16 L401.47,585.13 L403.46,585.11 L405.45,585.08 L407.45,585.06 L409.44,585.04 L411.43,585.03 L413.42,585.02 L415.42,585.01 L417.41,585.00 L419.40,585.00" fill="none" stroke="#2a2a2a" stroke-width="1.3" stroke-dasharray="5.5,3.6" stroke-linejoin="round"/>
<path d="M136.50,628.00 L138.49,626.92 L140.48,625.73 L142.48,624.46 L144.47,623.11 L146.46,621.69 L148.45,620.13 L150.45,618.33 L152.44,616.50 L154.43,614.89 L156.42,613.55 L158.41,612.37 L160.41,611.72 L162.40,611.36 L164.39,611.05 L166.38,610.81 L168.38,610.63 L170.37,610.53 L172.36,610.50 L174.35,610.55 L176.35,610.65 L178.34,610.80 L180.33,610.98 L182.32,611.19 L184.31,611.41 L186.31,611.63 L188.30,611.84 L190.29,612.03 L192.28,612.19 L194.28,612.33 L196.27,612.48 L198.26,612.62 L200.25,612.77 L202.24,612.95 L204.24,613.15 L206.23,613.38 L208.22,613.67 L210.21,614.13 L212.21,614.99 L214.20,616.08 L216.19,617.16 L218.18,618.05 L220.17,618.52 L222.17,618.76 L224.16,618.96 L226.15,619.12 L228.14,619.22 L230.14,619.25 L232.13,619.21 L234.12,619.12 L236.11,618.98 L238.10,618.81 L240.10,618.61 L242.09,618.41 L244.08,618.20 L246.07,618.01 L248.07,617.83 L250.06,617.70 L252.05,617.58 L254.04,617.46 L256.04,617.35 L258.03,617.23 L260.02,617.12 L262.01,617.01 L264.00,616.91 L266.00,616.81 L267.99,616.72 L269.98,616.63 L271.97,616.55 L273.97,616.47 L275.96,616.41 L277.95,616.35 L279.94,616.30 L281.93,616.26 L283.93,616.22 L285.92,616.19 L287.91,616.16 L289.90,616.14 L291.90,616.11 L293.89,616.09 L295.88,616.06 L297.87,616.03 L299.86,616.00 L301.86,615.97 L303.85,615.93 L305.84,615.89 L307.83,615.85 L309.83,615.81 L311.82,615.77 L313.81,615.73 L315.80,615.69 L317.80,615.64 L319.79,615.60 L321.78,615.55 L323.77,615.51 L325.76,615.46 L327.76,615.42 L329.75,615.38 L331.74,615.33 L333.73,615.29 L335.73,615.25 L337.72,615.21 L339.71,615.17 L341.70,615.13 L343.69,615.10 L345.69,615.06 L347.68,615.03 L349.67,615.00 L351.66,614.98 L353.66,614.95 L355.65,614.92 L357.64,614.90 L359.63,614.87 L361.62,614.84 L363.62,614.82 L365.61,614.79 L367.60,614.77 L369.59,614.74 L371.59,614.72 L373.58,614.70 L375.57,614.67 L377.56,614.65 L379.55,614.63 L381.55,614.60 L383.54,614.58 L385.53,614.56 L387.52,614.54 L389.52,614.52 L391.51,614.50 L393.50,614.48 L395.49,614.46 L397.49,614.45 L399.48,614.43 L401.47,614.41 L403.46,614.40 L405.45,614.38 L407.45,614.37 L409.44,614.35 L411.43,614.34 L413.42,614.33 L415.42,614.32 L417.41,614.31 L419.40,614.30" fill="none" stroke="#2a2a2a" stroke-width="1.3" stroke-dasharray="5.5,3.6" stroke-linejoin="round"/>
<path d="M136.80,607.50 L138.79,606.94 L140.78,606.36 L142.77,605.78 L144.76,605.18 L146.75,604.58 L148.74,603.92 L150.73,603.19 L152.72,602.44 L154.71,601.71 L156.70,601.06 L158.69,600.54 L160.68,600.20 L162.67,599.90 L164.66,599.63 L166.65,599.40 L168.64,599.23 L170.63,599.12 L172.62,599.11 L174.61,599.30 L176.60,599.68 L178.59,600.19 L180.58,600.78 L182.57,601.39 L184.56,602.19 L186.55,603.21 L188.54,604.35 L190.53,605.48 L192.52,606.53 L194.51,607.58 L196.50,608.63 L198.49,609.65 L200.48,610.63 L202.47,611.59 L204.46,612.50 L206.45,613.36 L208.45,614.25 L210.44,615.02 L212.43,615.47 L214.42,615.76 L216.41,616.00 L218.40,616.16 L220.39,616.20 L222.38,616.14 L224.37,616.01 L226.36,615.84 L228.35,615.66 L230.34,615.47 L232.33,615.27 L234.32,615.05 L236.31,614.80 L238.30,614.53 L240.29,614.24 L242.28,613.93 L244.27,613.61 L246.26,613.27 L248.25,612.92 L250.24,612.56 L252.23,612.15 L254.22,611.69 L256.21,611.19 L258.20,610.68 L260.19,610.16 L262.18,609.65 L264.17,609.18 L266.16,608.75 L268.15,608.32 L270.14,607.90 L272.13,607.48 L274.12,607.09 L276.11,606.72 L278.10,606.38 L280.09,606.09 L282.08,605.82 L284.07,605.57 L286.06,605.33 L288.05,605.11 L290.04,604.90 L292.03,604.70 L294.02,604.51 L296.01,604.33 L298.00,604.16 L299.99,604.00 L301.98,603.85 L303.97,603.70 L305.96,603.56 L307.95,603.43 L309.94,603.30 L311.93,603.17 L313.92,603.05 L315.91,602.93 L317.90,602.82 L319.89,602.71 L321.88,602.60 L323.87,602.50 L325.86,602.40 L327.85,602.30 L329.84,602.21 L331.83,602.11 L333.82,602.02 L335.81,601.93 L337.80,601.84 L339.79,601.76 L341.78,601.68 L343.77,601.60 L345.76,601.53 L347.75,601.47 L349.75,601.41 L351.74,601.35 L353.73,601.30 L355.72,601.25 L357.71,601.20 L359.70,601.16 L361.69,601.11 L363.68,601.07 L365.67,601.03 L367.66,600.99 L369.65,600.95 L371.64,600.92 L373.63,600.89 L375.62,600.86 L377.61,600.83 L379.60,600.80 L381.59,600.78 L383.58,600.76 L385.57,600.74 L387.56,600.72 L389.55,600.70 L391.54,600.67 L393.53,600.65 L395.52,600.64 L397.51,600.62 L399.50,600.60 L401.49,600.58 L403.48,600.57 L405.47,600.55 L407.46,600.54 L409.45,600.53 L411.44,600.52 L413.43,600.51 L415.42,600.51 L417.41,600.50 L419.40,600.50" fill="none" stroke="#b3173f" stroke-width="1.45" stroke-linejoin="round"/>
<path d="M433.8,566.8 L499.6,563.8" fill="none" stroke="#2a2a2a" stroke-width="1.3" stroke-dasharray="5.5,3.6" stroke-linejoin="round"/>
<path d="M433.8,619.7 L499.6,620.6" fill="none" stroke="#2a2a2a" stroke-width="1.3" stroke-dasharray="5.5,3.6" stroke-linejoin="round"/>
<path d="M433.8,595.8 L499.6,595.3" fill="none" stroke="#b3173f" stroke-width="1.45" stroke-linejoin="round"/>
<path d="M141.3,640.0 L141.3,659.8 L133.7,659.8 L133.7,671" fill="none" stroke="#231f20" stroke-width="1.1"/>
<path d="M131.39999999999998,670 L136.0,670 L133.7,675.5 Z" fill="#231f20"/>
<path d="M159.6,640.0 L159.6,659.8 L175.6,659.8 L175.6,671" fill="none" stroke="#231f20" stroke-width="1.1"/>
<path d="M173.29999999999998,670 L177.9,670 L175.6,675.5 Z" fill="#231f20"/>
<path d="M217.5,640.0 L217.5,659.8 L225.6,659.8 L225.6,671" fill="none" stroke="#231f20" stroke-width="1.1"/>
<path d="M223.29999999999998,670 L227.9,670 L225.6,675.5 Z" fill="#231f20"/>
<text x="12.9" y="160.7" font-size="7.9" text-anchor="start" textLength="36.6" lengthAdjust="spacingAndGlyphs" fill="#231f20">Percentiles</text>
<text x="163.5" y="160.7" font-size="7.9" text-anchor="middle" textLength="23.04" lengthAdjust="spacingAndGlyphs" fill="#231f20">0th-5th</text>
<text x="224.5" y="160.7" font-size="7.9" text-anchor="middle" textLength="27.15" lengthAdjust="spacingAndGlyphs" fill="#231f20">6th-25th</text>
<text x="279.6" y="160.7" font-size="7.9" text-anchor="middle" textLength="31.27" lengthAdjust="spacingAndGlyphs" fill="#231f20">26th-74th</text>
<text x="333.6" y="160.7" font-size="7.9" text-anchor="middle" textLength="31.27" lengthAdjust="spacingAndGlyphs" fill="#231f20">75th-94th</text>
<text x="434.4" y="160.7" font-size="7.9" text-anchor="middle" textLength="35.38" lengthAdjust="spacingAndGlyphs" fill="#231f20">95th-100th</text>
<text x="12.9" y="171.2" font-size="7.9" text-anchor="start" textLength="39.62" lengthAdjust="spacingAndGlyphs" fill="#231f20">Iron (μmol/l)</text>
<text x="163.5" y="171.2" font-size="7.9" text-anchor="middle" textLength="16.87" lengthAdjust="spacingAndGlyphs" fill="#231f20">0-7.1</text>
<text x="224.5" y="171.2" font-size="7.9" text-anchor="middle" textLength="26.6" lengthAdjust="spacingAndGlyphs" fill="#231f20">7.2-11.0</text>
<text x="279.6" y="171.2" font-size="7.9" text-anchor="middle" textLength="30.72" lengthAdjust="spacingAndGlyphs" fill="#231f20">11.1-17.0</text>
<text x="333.6" y="171.2" font-size="7.9" text-anchor="middle" textLength="31.27" lengthAdjust="spacingAndGlyphs" fill="#231f20">17.1-22.4</text>
<text x="434.4" y="171.2" font-size="7.9" text-anchor="middle" textLength="35.38" lengthAdjust="spacingAndGlyphs" fill="#231f20">22.5-130.2</text>
<text x="12.9" y="182.3" font-size="7.9" text-anchor="start" textLength="49.36" lengthAdjust="spacingAndGlyphs" fill="#231f20">Individuals, no.</text>
<text x="163.5" y="182.3" font-size="7.9" text-anchor="middle" textLength="18.52" lengthAdjust="spacingAndGlyphs" fill="#231f20">7,234</text>
<text x="224.5" y="182.3" font-size="7.9" text-anchor="middle" textLength="22.63" lengthAdjust="spacingAndGlyphs" fill="#231f20">29,815</text>
<text x="279.6" y="182.3" font-size="7.9" text-anchor="middle" textLength="22.63" lengthAdjust="spacingAndGlyphs" fill="#231f20">63,570</text>
<text x="333.6" y="182.3" font-size="7.9" text-anchor="middle" textLength="22.63" lengthAdjust="spacingAndGlyphs" fill="#231f20">28,859</text>
<text x="434.4" y="182.3" font-size="7.9" text-anchor="middle" textLength="18.52" lengthAdjust="spacingAndGlyphs" fill="#231f20">7,178</text>
<text x="12.9" y="192.8" font-size="7.9" text-anchor="start" textLength="46.07" lengthAdjust="spacingAndGlyphs" fill="#231f20">Infections, no.</text>
<text x="163.5" y="192.8" font-size="7.9" text-anchor="middle" textLength="17.42" lengthAdjust="spacingAndGlyphs" fill="#231f20">1,111</text>
<text x="224.5" y="192.8" font-size="7.9" text-anchor="middle" textLength="18.52" lengthAdjust="spacingAndGlyphs" fill="#231f20">4,338</text>
<text x="279.6" y="192.8" font-size="7.9" text-anchor="middle" textLength="18.52" lengthAdjust="spacingAndGlyphs" fill="#231f20">8,409</text>
<text x="333.6" y="192.8" font-size="7.9" text-anchor="middle" textLength="18.52" lengthAdjust="spacingAndGlyphs" fill="#231f20">4,015</text>
<text x="434.4" y="192.8" font-size="7.9" text-anchor="middle" textLength="18.52" lengthAdjust="spacingAndGlyphs" fill="#231f20">1,037</text>
<text x="12.9" y="203.6" font-size="7.9" text-anchor="start" textLength="43.18" lengthAdjust="spacingAndGlyphs" fill="#231f20">Hazard ratio*</text>
<text x="163.5" y="203.6" font-size="7.9" text-anchor="middle" textLength="14.4" lengthAdjust="spacingAndGlyphs" fill="#231f20">1.20</text>
<text x="224.5" y="203.6" font-size="7.9" text-anchor="middle" textLength="14.4" lengthAdjust="spacingAndGlyphs" fill="#231f20">1.08</text>
<text x="279.6" y="203.6" font-size="7.9" text-anchor="middle" textLength="15.62" lengthAdjust="spacingAndGlyphs" fill="#231f20">(ref.)</text>
<text x="333.6" y="203.6" font-size="7.9" text-anchor="middle" textLength="14.4" lengthAdjust="spacingAndGlyphs" fill="#231f20">1.04</text>
<text x="434.4" y="203.6" font-size="7.9" text-anchor="middle" textLength="14.4" lengthAdjust="spacingAndGlyphs" fill="#231f20">1.14</text>
<text x="12.9" y="214.3" font-size="7.9" text-anchor="start" textLength="29.19" lengthAdjust="spacingAndGlyphs" fill="#231f20">(95% CI)</text>
<text x="163.5" y="214.3" font-size="7.9" text-anchor="middle" textLength="36.19" lengthAdjust="spacingAndGlyphs" fill="#231f20">(1.12-1.28)</text>
<text x="224.5" y="214.3" font-size="7.9" text-anchor="middle" textLength="36.19" lengthAdjust="spacingAndGlyphs" fill="#231f20">(1.04-1.12)</text>
<text x="279.6" y="214.3" font-size="7.9" text-anchor="middle" textLength="15.62" lengthAdjust="spacingAndGlyphs" fill="#231f20">(ref.)</text>
<text x="333.6" y="214.3" font-size="7.9" text-anchor="middle" textLength="36.19" lengthAdjust="spacingAndGlyphs" fill="#231f20">(1.00-1.08)</text>
<text x="434.4" y="214.3" font-size="7.9" text-anchor="middle" textLength="36.19" lengthAdjust="spacingAndGlyphs" fill="#231f20">(1.07-1.22)</text>
<text x="12.9" y="224.5" font-size="7.9" text-anchor="start" font-style="italic" textLength="4.94" lengthAdjust="spacingAndGlyphs" fill="#231f20">P</text>
<text x="163.5" y="224.5" font-size="7.4" text-anchor="middle" fill="#231f20">4×10<tspan dy="-2.8" font-size="4.3" style="stroke-width:0">-8</tspan></text>
<text x="224.5" y="224.5" font-size="7.9" text-anchor="middle" textLength="18.52" lengthAdjust="spacingAndGlyphs" fill="#231f20">.0001</text>
<text x="279.6" y="224.5" font-size="7.9" text-anchor="middle" textLength="15.62" lengthAdjust="spacingAndGlyphs" fill="#231f20">(ref.)</text>
<text x="333.6" y="224.5" font-size="7.9" text-anchor="middle" textLength="10.29" lengthAdjust="spacingAndGlyphs" fill="#231f20">.07</text>
<text x="434.4" y="224.5" font-size="7.4" text-anchor="middle" fill="#231f20">9×10<tspan dy="-2.8" font-size="4.3" style="stroke-width:0">-5</tspan></text>
<rect x="7.5" y="227.8" width="463.7" height="13.599999999999994" fill="#c5c4c9"/>
<text x="12.9" y="237.5" font-size="7.9" text-anchor="start" font-style="italic" textLength="275" lengthAdjust="spacingAndGlyphs" fill="#231f20">When additionally performing competing risk analysis with death as competing risk:</text>
<text x="12.9" y="250.4" font-size="7.4" text-anchor="start" font-style="italic" fill="#231f20">Subhazard ratio<tspan dy="-2.6" font-size="4.4" style="stroke-width:0">†</tspan></text>
<text x="163.5" y="250.4" font-size="7.9" text-anchor="middle" font-style="italic" textLength="14.4" lengthAdjust="spacingAndGlyphs" fill="#231f20">1.15</text>
<text x="224.5" y="250.4" font-size="7.9" text-anchor="middle" font-style="italic" textLength="14.4" lengthAdjust="spacingAndGlyphs" fill="#231f20">1.07</text>
<text x="279.6" y="250.4" font-size="7.9" text-anchor="middle" font-style="italic" textLength="15.62" lengthAdjust="spacingAndGlyphs" fill="#231f20">(ref.)</text>
<text x="333.6" y="250.4" font-size="7.9" text-anchor="middle" font-style="italic" textLength="14.4" lengthAdjust="spacingAndGlyphs" fill="#231f20">1.02</text>
<text x="434.4" y="250.4" font-size="7.9" text-anchor="middle" font-style="italic" textLength="14.4" lengthAdjust="spacingAndGlyphs" fill="#231f20">1.10</text>
<text x="12.9" y="260.9" font-size="7.9" text-anchor="start" font-style="italic" textLength="29.19" lengthAdjust="spacingAndGlyphs" fill="#231f20">(95% CI)</text>
<text x="163.5" y="260.9" font-size="7.9" text-anchor="middle" font-style="italic" textLength="36.19" lengthAdjust="spacingAndGlyphs" fill="#231f20">(1.08-1.23)</text>
<text x="224.5" y="260.9" font-size="7.9" text-anchor="middle" font-style="italic" textLength="35.64" lengthAdjust="spacingAndGlyphs" fill="#231f20">(1.03-1.11)</text>
<text x="279.6" y="260.9" font-size="7.9" text-anchor="middle" font-style="italic" textLength="15.62" lengthAdjust="spacingAndGlyphs" fill="#231f20">(ref.)</text>
<text x="333.6" y="260.9" font-size="7.9" text-anchor="middle" font-style="italic" textLength="36.19" lengthAdjust="spacingAndGlyphs" fill="#231f20">(0.98-1.06)</text>
<text x="434.4" y="260.9" font-size="7.9" text-anchor="middle" font-style="italic" textLength="36.19" lengthAdjust="spacingAndGlyphs" fill="#231f20">(1.03-1.17)</text>
<text x="12.9" y="423.5" font-size="7.9" text-anchor="start" textLength="36.6" lengthAdjust="spacingAndGlyphs" fill="#231f20">Percentiles</text>
<text x="151.5" y="423.5" font-size="7.9" text-anchor="middle" textLength="23.04" lengthAdjust="spacingAndGlyphs" fill="#231f20">0th-5th</text>
<text x="202.0" y="423.5" font-size="7.9" text-anchor="middle" textLength="27.15" lengthAdjust="spacingAndGlyphs" fill="#231f20">6th-25th</text>
<text x="247.5" y="423.5" font-size="7.9" text-anchor="middle" textLength="31.27" lengthAdjust="spacingAndGlyphs" fill="#231f20">26th-74th</text>
<text x="297.5" y="423.5" font-size="7.9" text-anchor="middle" textLength="31.27" lengthAdjust="spacingAndGlyphs" fill="#231f20">75th-94th</text>
<text x="396.8" y="423.5" font-size="7.9" text-anchor="middle" textLength="35.38" lengthAdjust="spacingAndGlyphs" fill="#231f20">95th-100th</text>
<text x="12.9" y="434.2" font-size="7.9" text-anchor="start" textLength="63.04" lengthAdjust="spacingAndGlyphs" fill="#231f20">Transferrin sat. (%)</text>
<text x="151.5" y="434.2" font-size="7.9" text-anchor="middle" textLength="20.43" lengthAdjust="spacingAndGlyphs" fill="#231f20">0-11.0</text>
<text x="202.0" y="434.2" font-size="7.9" text-anchor="middle" textLength="30.72" lengthAdjust="spacingAndGlyphs" fill="#231f20">11.1-18.0</text>
<text x="247.5" y="434.2" font-size="7.9" text-anchor="middle" textLength="31.27" lengthAdjust="spacingAndGlyphs" fill="#231f20">18.1-27.9</text>
<text x="297.5" y="434.2" font-size="7.9" text-anchor="middle" textLength="31.27" lengthAdjust="spacingAndGlyphs" fill="#231f20">28.0-38.9</text>
<text x="396.8" y="434.2" font-size="7.9" text-anchor="middle" textLength="29.21" lengthAdjust="spacingAndGlyphs" fill="#231f20">39.0-195</text>
<text x="12.9" y="444.8" font-size="7.9" text-anchor="start" textLength="49.36" lengthAdjust="spacingAndGlyphs" fill="#231f20">Individuals, no.</text>
<text x="151.5" y="444.8" font-size="7.9" text-anchor="middle" textLength="18.52" lengthAdjust="spacingAndGlyphs" fill="#231f20">7,401</text>
<text x="202.0" y="444.8" font-size="7.9" text-anchor="middle" textLength="22.63" lengthAdjust="spacingAndGlyphs" fill="#231f20">31,749</text>
<text x="247.5" y="444.8" font-size="7.9" text-anchor="middle" textLength="22.63" lengthAdjust="spacingAndGlyphs" fill="#231f20">58,997</text>
<text x="297.5" y="444.8" font-size="7.9" text-anchor="middle" textLength="22.63" lengthAdjust="spacingAndGlyphs" fill="#231f20">32,176</text>
<text x="396.8" y="444.8" font-size="7.9" text-anchor="middle" textLength="18.52" lengthAdjust="spacingAndGlyphs" fill="#231f20">6,276</text>
<text x="12.9" y="455.4" font-size="7.9" text-anchor="start" textLength="46.07" lengthAdjust="spacingAndGlyphs" fill="#231f20">Infections, no.</text>
<text x="151.5" y="455.4" font-size="7.9" text-anchor="middle" textLength="18.52" lengthAdjust="spacingAndGlyphs" fill="#231f20">1,068</text>
<text x="202.0" y="455.4" font-size="7.9" text-anchor="middle" textLength="18.52" lengthAdjust="spacingAndGlyphs" fill="#231f20">4,362</text>
<text x="247.5" y="455.4" font-size="7.9" text-anchor="middle" textLength="18.52" lengthAdjust="spacingAndGlyphs" fill="#231f20">8,027</text>
<text x="297.5" y="455.4" font-size="7.9" text-anchor="middle" textLength="18.52" lengthAdjust="spacingAndGlyphs" fill="#231f20">4,450</text>
<text x="396.8" y="455.4" font-size="7.9" text-anchor="middle" textLength="12.35" lengthAdjust="spacingAndGlyphs" fill="#231f20">993</text>
<text x="12.9" y="466.0" font-size="7.9" text-anchor="start" textLength="43.18" lengthAdjust="spacingAndGlyphs" fill="#231f20">Hazard ratio*</text>
<text x="151.5" y="466.0" font-size="7.9" text-anchor="middle" textLength="14.4" lengthAdjust="spacingAndGlyphs" fill="#231f20">1.18</text>
<text x="202.0" y="466.0" font-size="7.9" text-anchor="middle" textLength="14.4" lengthAdjust="spacingAndGlyphs" fill="#231f20">1.03</text>
<text x="247.5" y="466.0" font-size="7.9" text-anchor="middle" textLength="15.62" lengthAdjust="spacingAndGlyphs" fill="#231f20">(ref.)</text>
<text x="297.5" y="466.0" font-size="7.9" text-anchor="middle" textLength="14.4" lengthAdjust="spacingAndGlyphs" fill="#231f20">0.98</text>
<text x="396.8" y="466.0" font-size="7.9" text-anchor="middle" textLength="14.4" lengthAdjust="spacingAndGlyphs" fill="#231f20">1.10</text>
<text x="12.9" y="476.8" font-size="7.9" text-anchor="start" textLength="29.19" lengthAdjust="spacingAndGlyphs" fill="#231f20">(95% CI)</text>
<text x="151.5" y="476.8" font-size="7.9" text-anchor="middle" textLength="36.19" lengthAdjust="spacingAndGlyphs" fill="#231f20">(1.10-1.26)</text>
<text x="202.0" y="476.8" font-size="7.9" text-anchor="middle" textLength="36.19" lengthAdjust="spacingAndGlyphs" fill="#231f20">(1.00-1.07)</text>
<text x="247.5" y="476.8" font-size="7.9" text-anchor="middle" textLength="15.62" lengthAdjust="spacingAndGlyphs" fill="#231f20">(ref.)</text>
<text x="297.5" y="476.8" font-size="7.9" text-anchor="middle" textLength="36.19" lengthAdjust="spacingAndGlyphs" fill="#231f20">(0.95-1.02)</text>
<text x="396.8" y="476.8" font-size="7.9" text-anchor="middle" textLength="36.19" lengthAdjust="spacingAndGlyphs" fill="#231f20">(1.03-1.17)</text>
<text x="12.9" y="487.1" font-size="7.9" text-anchor="start" font-style="italic" textLength="4.94" lengthAdjust="spacingAndGlyphs" fill="#231f20">P</text>
<text x="151.5" y="487.1" font-size="7.4" text-anchor="middle" fill="#231f20">9×10<tspan dy="-2.8" font-size="4.3" style="stroke-width:0">-7</tspan></text>
<text x="202.0" y="487.1" font-size="7.9" text-anchor="middle" textLength="10.29" lengthAdjust="spacingAndGlyphs" fill="#231f20">.09</text>
<text x="247.5" y="487.1" font-size="7.9" text-anchor="middle" textLength="15.62" lengthAdjust="spacingAndGlyphs" fill="#231f20">(ref.)</text>
<text x="297.5" y="487.1" font-size="7.9" text-anchor="middle" textLength="10.29" lengthAdjust="spacingAndGlyphs" fill="#231f20">.33</text>
<text x="396.8" y="487.1" font-size="7.9" text-anchor="middle" textLength="14.4" lengthAdjust="spacingAndGlyphs" fill="#231f20">.007</text>
<rect x="7.5" y="490.8" width="463.7" height="13.0" fill="#c5c4c9"/>
<text x="12.9" y="500.0" font-size="7.9" text-anchor="start" font-style="italic" textLength="275" lengthAdjust="spacingAndGlyphs" fill="#231f20">When additionally performing competing risk analysis with death as competing risk:</text>
<text x="12.9" y="513.0" font-size="7.4" text-anchor="start" font-style="italic" fill="#231f20">Subhazard ratio<tspan dy="-2.6" font-size="4.4" style="stroke-width:0">†</tspan></text>
<text x="151.5" y="513.0" font-size="7.9" text-anchor="middle" font-style="italic" textLength="14.4" lengthAdjust="spacingAndGlyphs" fill="#231f20">1.14</text>
<text x="202.0" y="513.0" font-size="7.9" text-anchor="middle" font-style="italic" textLength="14.4" lengthAdjust="spacingAndGlyphs" fill="#231f20">1.02</text>
<text x="247.5" y="513.0" font-size="7.9" text-anchor="middle" font-style="italic" textLength="15.62" lengthAdjust="spacingAndGlyphs" fill="#231f20">(ref.)</text>
<text x="297.5" y="513.0" font-size="7.9" text-anchor="middle" font-style="italic" textLength="14.4" lengthAdjust="spacingAndGlyphs" fill="#231f20">0.98</text>
<text x="396.8" y="513.0" font-size="7.9" text-anchor="middle" font-style="italic" textLength="14.4" lengthAdjust="spacingAndGlyphs" fill="#231f20">1.07</text>
<text x="12.9" y="523.0" font-size="7.9" text-anchor="start" font-style="italic" textLength="29.19" lengthAdjust="spacingAndGlyphs" fill="#231f20">(95% CI)</text>
<text x="151.5" y="523.0" font-size="7.9" text-anchor="middle" font-style="italic" textLength="36.19" lengthAdjust="spacingAndGlyphs" fill="#231f20">(1.07-1.22)</text>
<text x="202.0" y="523.0" font-size="7.9" text-anchor="middle" font-style="italic" textLength="36.19" lengthAdjust="spacingAndGlyphs" fill="#231f20">(0.98-1.06)</text>
<text x="247.5" y="523.0" font-size="7.9" text-anchor="middle" font-style="italic" textLength="15.62" lengthAdjust="spacingAndGlyphs" fill="#231f20">(ref.)</text>
<text x="297.5" y="523.0" font-size="7.9" text-anchor="middle" font-style="italic" textLength="36.19" lengthAdjust="spacingAndGlyphs" fill="#231f20">(0.95-1.02)</text>
<text x="396.8" y="523.0" font-size="7.9" text-anchor="middle" font-style="italic" textLength="36.19" lengthAdjust="spacingAndGlyphs" fill="#231f20">(1.00-1.14)</text>
<text x="12.9" y="687.6" font-size="7.9" text-anchor="start" textLength="36.6" lengthAdjust="spacingAndGlyphs" fill="#231f20">Percentiles</text>
<text x="134.5" y="687.6" font-size="7.9" text-anchor="middle" textLength="23.04" lengthAdjust="spacingAndGlyphs" fill="#231f20">0th-5th</text>
<text x="176.0" y="687.6" font-size="7.9" text-anchor="middle" textLength="27.15" lengthAdjust="spacingAndGlyphs" fill="#231f20">6th-25th</text>
<text x="226.0" y="687.6" font-size="7.9" text-anchor="middle" textLength="31.27" lengthAdjust="spacingAndGlyphs" fill="#231f20">26th-74th</text>
<text x="324.0" y="687.6" font-size="7.9" text-anchor="middle" textLength="31.27" lengthAdjust="spacingAndGlyphs" fill="#231f20">75th-94th</text>
<text x="443.0" y="687.6" font-size="7.9" text-anchor="middle" textLength="35.38" lengthAdjust="spacingAndGlyphs" fill="#231f20">95th-100th</text>
<text x="12.9" y="698.7" font-size="7.9" text-anchor="start" textLength="42.09" lengthAdjust="spacingAndGlyphs" fill="#231f20">Ferritin (μg/l)</text>
<text x="134.5" y="698.7" font-size="7.9" text-anchor="middle" textLength="20.98" lengthAdjust="spacingAndGlyphs" fill="#231f20">0-15.0</text>
<text x="176.0" y="698.7" font-size="7.9" text-anchor="middle" textLength="31.27" lengthAdjust="spacingAndGlyphs" fill="#231f20">15.1-50.0</text>
<text x="226.0" y="698.7" font-size="7.9" text-anchor="middle" textLength="35.38" lengthAdjust="spacingAndGlyphs" fill="#231f20">50.1-172.9</text>
<text x="324.0" y="698.7" font-size="7.9" text-anchor="middle" textLength="39.5" lengthAdjust="spacingAndGlyphs" fill="#231f20">173.0-357.9</text>
<text x="443.0" y="698.7" font-size="7.9" text-anchor="middle" textLength="41.56" lengthAdjust="spacingAndGlyphs" fill="#231f20">358.0-17200</text>
<text x="12.9" y="709.5" font-size="7.9" text-anchor="start" textLength="49.36" lengthAdjust="spacingAndGlyphs" fill="#231f20">Individuals, no.</text>
<text x="134.5" y="709.5" font-size="7.9" text-anchor="middle" textLength="18.52" lengthAdjust="spacingAndGlyphs" fill="#231f20">2,095</text>
<text x="176.0" y="709.5" font-size="7.9" text-anchor="middle" textLength="18.52" lengthAdjust="spacingAndGlyphs" fill="#231f20">7,427</text>
<text x="226.0" y="709.5" font-size="7.9" text-anchor="middle" textLength="22.63" lengthAdjust="spacingAndGlyphs" fill="#231f20">18,812</text>
<text x="324.0" y="709.5" font-size="7.9" text-anchor="middle" textLength="18.52" lengthAdjust="spacingAndGlyphs" fill="#231f20">7,775</text>
<text x="443.0" y="709.5" font-size="7.9" text-anchor="middle" textLength="17.97" lengthAdjust="spacingAndGlyphs" fill="#231f20">1,911</text>
<text x="12.9" y="720.7" font-size="7.9" text-anchor="start" textLength="46.07" lengthAdjust="spacingAndGlyphs" fill="#231f20">Infections, no.</text>
<text x="134.5" y="720.7" font-size="7.9" text-anchor="middle" textLength="12.35" lengthAdjust="spacingAndGlyphs" fill="#231f20">278</text>
<text x="176.0" y="720.7" font-size="7.9" text-anchor="middle" textLength="18.52" lengthAdjust="spacingAndGlyphs" fill="#231f20">1,161</text>
<text x="226.0" y="720.7" font-size="7.9" text-anchor="middle" textLength="18.52" lengthAdjust="spacingAndGlyphs" fill="#231f20">3,297</text>
<text x="324.0" y="720.7" font-size="7.9" text-anchor="middle" textLength="18.52" lengthAdjust="spacingAndGlyphs" fill="#231f20">1,371</text>
<text x="443.0" y="720.7" font-size="7.9" text-anchor="middle" textLength="12.35" lengthAdjust="spacingAndGlyphs" fill="#231f20">318</text>
<text x="12.9" y="731.7" font-size="7.9" text-anchor="start" textLength="43.18" lengthAdjust="spacingAndGlyphs" fill="#231f20">Hazard ratio*</text>
<text x="134.5" y="731.7" font-size="7.9" text-anchor="middle" textLength="14.4" lengthAdjust="spacingAndGlyphs" fill="#231f20">1.06</text>
<text x="176.0" y="731.7" font-size="7.9" text-anchor="middle" textLength="14.4" lengthAdjust="spacingAndGlyphs" fill="#231f20">1.07</text>
<text x="226.0" y="731.7" font-size="7.9" text-anchor="middle" textLength="15.62" lengthAdjust="spacingAndGlyphs" fill="#231f20">(ref.)</text>
<text x="324.0" y="731.7" font-size="7.9" text-anchor="middle" textLength="14.4" lengthAdjust="spacingAndGlyphs" fill="#231f20">1.03</text>
<text x="443.0" y="731.7" font-size="7.9" text-anchor="middle" textLength="14.4" lengthAdjust="spacingAndGlyphs" fill="#231f20">1.03</text>
<text x="12.9" y="742.5" font-size="7.9" text-anchor="start" textLength="29.19" lengthAdjust="spacingAndGlyphs" fill="#231f20">(95% CI)</text>
<text x="134.5" y="742.5" font-size="7.9" text-anchor="middle" textLength="36.19" lengthAdjust="spacingAndGlyphs" fill="#231f20">(0.93-1.21)</text>
<text x="176.0" y="742.5" font-size="7.9" text-anchor="middle" textLength="36.19" lengthAdjust="spacingAndGlyphs" fill="#231f20">(1.00-1.15)</text>
<text x="226.0" y="742.5" font-size="7.9" text-anchor="middle" textLength="15.62" lengthAdjust="spacingAndGlyphs" fill="#231f20">(ref.)</text>
<text x="324.0" y="742.5" font-size="7.9" text-anchor="middle" textLength="36.19" lengthAdjust="spacingAndGlyphs" fill="#231f20">(0.96-1.09)</text>
<text x="443.0" y="742.5" font-size="7.9" text-anchor="middle" textLength="36.19" lengthAdjust="spacingAndGlyphs" fill="#231f20">(0.91-1.16)</text>
<text x="12.9" y="753.0" font-size="7.9" text-anchor="start" font-style="italic" textLength="4.94" lengthAdjust="spacingAndGlyphs" fill="#231f20">P</text>
<text x="134.5" y="753.0" font-size="7.9" text-anchor="middle" textLength="10.29" lengthAdjust="spacingAndGlyphs" fill="#231f20">.36</text>
<text x="176.0" y="753.0" font-size="7.9" text-anchor="middle" textLength="10.29" lengthAdjust="spacingAndGlyphs" fill="#231f20">.04</text>
<text x="226.0" y="753.0" font-size="7.9" text-anchor="middle" textLength="15.62" lengthAdjust="spacingAndGlyphs" fill="#231f20">(ref.)</text>
<text x="324.0" y="753.0" font-size="7.9" text-anchor="middle" textLength="10.29" lengthAdjust="spacingAndGlyphs" fill="#231f20">.44</text>
<text x="443.0" y="753.0" font-size="7.9" text-anchor="middle" textLength="10.29" lengthAdjust="spacingAndGlyphs" fill="#231f20">.65</text>
<rect x="7.5" y="757.0" width="463.7" height="12.5" fill="#c5c4c9"/>
<text x="12.9" y="766.0" font-size="7.9" text-anchor="start" font-style="italic" textLength="275" lengthAdjust="spacingAndGlyphs" fill="#231f20">When additionally performing competing risk analysis with death as competing risk:</text>
<text x="12.9" y="778.8" font-size="7.4" text-anchor="start" font-style="italic" fill="#231f20">Subhazard ratio<tspan dy="-2.6" font-size="4.4" style="stroke-width:0">†</tspan></text>
<text x="134.5" y="778.8" font-size="7.9" text-anchor="middle" font-style="italic" textLength="14.4" lengthAdjust="spacingAndGlyphs" fill="#231f20">1.00</text>
<text x="176.0" y="778.8" font-size="7.9" text-anchor="middle" font-style="italic" textLength="14.4" lengthAdjust="spacingAndGlyphs" fill="#231f20">1.07</text>
<text x="226.0" y="778.8" font-size="7.9" text-anchor="middle" font-style="italic" textLength="15.62" lengthAdjust="spacingAndGlyphs" fill="#231f20">(ref.)</text>
<text x="324.0" y="778.8" font-size="7.9" text-anchor="middle" font-style="italic" textLength="14.4" lengthAdjust="spacingAndGlyphs" fill="#231f20">1.01</text>
<text x="443.0" y="778.8" font-size="7.9" text-anchor="middle" font-style="italic" textLength="14.4" lengthAdjust="spacingAndGlyphs" fill="#231f20">0.91</text>
<text x="12.9" y="790.0" font-size="7.9" text-anchor="start" font-style="italic" textLength="29.19" lengthAdjust="spacingAndGlyphs" fill="#231f20">(95% CI)</text>
<text x="134.5" y="790.0" font-size="7.9" text-anchor="middle" font-style="italic" textLength="36.19" lengthAdjust="spacingAndGlyphs" fill="#231f20">(0.88-1.13)</text>
<text x="176.0" y="790.0" font-size="7.9" text-anchor="middle" font-style="italic" textLength="36.19" lengthAdjust="spacingAndGlyphs" fill="#231f20">(1.00-1.15)</text>
<text x="226.0" y="790.0" font-size="7.9" text-anchor="middle" font-style="italic" textLength="15.62" lengthAdjust="spacingAndGlyphs" fill="#231f20">(ref.)</text>
<text x="324.0" y="790.0" font-size="7.9" text-anchor="middle" font-style="italic" textLength="36.19" lengthAdjust="spacingAndGlyphs" fill="#231f20">(0.95-1.08)</text>
<text x="443.0" y="790.0" font-size="7.9" text-anchor="middle" font-style="italic" textLength="36.19" lengthAdjust="spacingAndGlyphs" fill="#231f20">(0.81-1.02)</text>
</svg></div></body></html>
